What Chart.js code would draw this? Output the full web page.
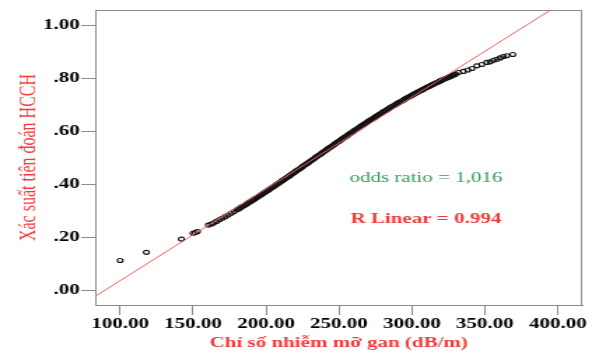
<!DOCTYPE html>
<html>
<head>
<meta charset="utf-8">
<script src="https://cdn.jsdelivr.net/npm/chart.js@4/dist/chart.umd.min.js"></script>
<style>
  html, body { margin: 0; padding: 0; background: #ffffff; overflow: hidden; }
  #wrap { position: absolute; left: 0; top: 0; width: 423px; height: 355px;
          transform: scaleX(1.39953); transform-origin: 0 0; }
</style>
</head>
<body>
<div id="wrap"><canvas id="c"></canvas></div>
<script>
// ---- data ----
const tasX = [100, 118, 142, 150, 151.5, 153, 160.5, 162.5,
  164, 166, 168, 170, 172, 174, 176, 178, 180,
  181, 182, 183, 184, 185, 186, 187, 188, 189, 190,
  191, 192, 193, 194, 195, 196, 197, 198, 199, 200,
  201, 202, 203, 204, 205, 206, 207, 208, 209, 210,
  211, 212, 213, 214, 215, 216, 217, 218, 219, 220,
  221, 222, 223, 224, 225, 226, 227, 228, 229, 230,
  231, 232, 233, 234, 235, 236, 237, 238, 239, 240,
  241, 242, 243, 244, 245, 246, 247, 248, 249, 250,
  251, 252, 253, 254, 255, 256, 257, 258, 259, 260,
  261, 262, 263, 264, 265, 266, 267, 268, 269, 270,
  271, 272, 273, 274, 275, 276, 277, 278, 279, 280,
  281, 282, 283, 284, 285, 286, 287, 288, 289, 290,
  291, 292, 293, 294, 295, 296, 297, 298, 299, 300,
  301, 302, 303, 304, 305, 306, 307, 308, 309, 310,
  311, 312, 313, 314, 315, 316, 317, 318, 319, 320,
  321, 322, 323, 324, 325, 326, 327, 328, 329, 330,
  331.9, 335.3, 338.3, 341.1, 344.5, 347.9, 351.3, 353.6, 355.9, 358.2, 360.5, 362.7, 365.0, 369.1];

const probY = [0.112, 0.143, 0.193, 0.215, 0.218, 0.222, 0.246, 0.250,
  0.254, 0.260, 0.266, 0.272, 0.278, 0.284, 0.291, 0.297, 0.304,
  0.307, 0.310, 0.314, 0.317, 0.320, 0.324, 0.327, 0.331, 0.334, 0.337,
  0.341, 0.344, 0.348, 0.351, 0.355, 0.359, 0.362, 0.366, 0.369, 0.373,
  0.377, 0.380, 0.384, 0.388, 0.391, 0.395, 0.399, 0.402, 0.406, 0.410,
  0.414, 0.417, 0.421, 0.425, 0.429, 0.432, 0.436, 0.440, 0.444, 0.448,
  0.452, 0.455, 0.459, 0.463, 0.467, 0.471, 0.475, 0.479, 0.482, 0.486,
  0.490, 0.494, 0.498, 0.502, 0.506, 0.510, 0.513, 0.517, 0.521, 0.525,
  0.529, 0.533, 0.537, 0.540, 0.544, 0.548, 0.552, 0.556, 0.560, 0.563,
  0.567, 0.571, 0.575, 0.579, 0.582, 0.586, 0.590, 0.594, 0.597, 0.601,
  0.605, 0.608, 0.612, 0.616, 0.620, 0.623, 0.627, 0.630, 0.634, 0.638,
  0.641, 0.645, 0.648, 0.652, 0.655, 0.659, 0.662, 0.666, 0.669, 0.673,
  0.676, 0.679, 0.683, 0.686, 0.690, 0.693, 0.696, 0.699, 0.703, 0.706,
  0.709, 0.712, 0.715, 0.718, 0.722, 0.725, 0.728, 0.731, 0.734, 0.737,
  0.740, 0.743, 0.746, 0.749, 0.752, 0.755, 0.757, 0.760, 0.763, 0.766,
  0.769, 0.771, 0.774, 0.777, 0.779, 0.782, 0.785, 0.787, 0.790, 0.793,
  0.795, 0.798, 0.800, 0.803, 0.805, 0.807, 0.810, 0.812, 0.814, 0.817,
  0.823, 0.827, 0.832, 0.838, 0.848, 0.853, 0.861, 0.863, 0.869, 0.873, 0.878, 0.883, 0.886, 0.891];

// linear reference line (R Linear)
const fitX = [82.9, 400];
const fitY = [-0.0234, 1.0763];

// ticks
const xTickValues = [100, 150, 200, 250, 300, 350, 400];
const xTickLabels = ['100.00', '150.00', '200.00', '250.00', '300.00', '350.00', '400.00'];
const yTickValues = [0, 0.2, 0.4, 0.6, 0.8, 1.0];
const yTickLabels = ['.00', '.20', '.40', '.60', '.80', '1.00'];

const xTitle = 'Chỉ số nhiễm mỡ gan (dB/m)';
const yTitle = 'Xác suất tiên đoán HCCH';
const noteOdds = 'odds ratio = 1,016';
const noteR = 'R Linear = 0.994';

// ---- chart ----
const scatterPts = tasX.map((x, i) => ({ x: x, y: probY[i] }));
const linePts = fitX.map((x, i) => ({ x: x, y: fitY[i] }));

const framePlugin = {
  id: 'frame',
  afterDatasetsDraw(chart) {
    const { ctx, chartArea: a } = chart;
    ctx.save();
    ctx.strokeStyle = '#8c8c8c';
    ctx.lineWidth = 1;
    ctx.strokeRect(Math.round(a.left) + 0.5, Math.round(a.top) + 0.5,
                   Math.round(a.right - a.left) - 1, Math.round(a.bottom - a.top));
    ctx.restore();
  },
  afterDraw(chart) {
    const { ctx } = chart;
    ctx.save();
    ctx.textAlign = 'center';
    ctx.textBaseline = 'middle';
    const cx = 304.3;
    ctx.font = '15px "Liberation Serif"';
    ctx.fillStyle = '#2f9a5c';
    ctx.fillText(noteOdds, cx, 178.5);
    ctx.font = 'bold 15px "Liberation Serif"';
    ctx.fillStyle = '#ee3c3c';
    ctx.fillText(noteR, cx, 219.5);
    ctx.restore();
  }
};

new Chart(document.getElementById('c'), {
  type: 'scatter',
  data: {
    datasets: [
      {
        data: linePts,
        showLine: true,
        borderColor: '#ef5a5a',
        borderWidth: 1,
        pointRadius: 0,
        fill: false
      },
      {
        data: scatterPts,
        pointRadius: 2,
        pointBorderWidth: 1.1,
        pointBorderColor: '#111111',
        pointBackgroundColor: 'rgba(255,255,255,0)',
        pointHoverRadius: 2
      }
    ]
  },
  options: {
    responsive: true,
    maintainAspectRatio: false,
    animation: false,
    events: [],
    layout: { padding: { top: 7, right: 7, left: 0, bottom: 0 } },
    plugins: { legend: { display: false }, tooltip: { enabled: false } },
    scales: {
      x: {
        type: 'linear',
        min: 82.9,
        max: 416.7,
        afterBuildTicks: s => { s.ticks = xTickValues.map(v => ({ value: v })); },
        afterFit: s => { s.height = 50; },
        border: { display: true, color: '#8c8c8c' },
        grid: { drawOnChartArea: false, drawTicks: true, tickLength: 10, color: '#8c8c8c' },
        ticks: {
          padding: 0,
          color: '#000',
          font: { family: 'Liberation Serif', size: 15, weight: 'bold' },
          maxRotation: 0,
          autoSkip: false,
          callback: (v) => xTickLabels[xTickValues.indexOf(v)]
        },
        title: {
          display: true,
          text: xTitle,
          color: '#ee3b3b',
          font: { family: 'Liberation Serif', size: 15, weight: 'bold', lineHeight: 1.2 },
          padding: { top: 0, bottom: 3 }
        }
      },
      y: {
        type: 'linear',
        min: -0.056,
        max: 1.059,
        afterBuildTicks: s => { s.ticks = yTickValues.map(v => ({ value: v })); },
        afterFit: s => { s.width = 68; },
        border: { display: true, color: '#8c8c8c' },
        grid: { drawOnChartArea: false, drawTicks: true, tickLength: 10, color: '#8c8c8c' },
        ticks: {
          padding: 1,
          color: '#000',
          font: { family: 'Liberation Serif', size: 15, weight: 'bold' },
          autoSkip: false,
          callback: (v) => yTickLabels[yTickValues.indexOf(v)]
        },
        title: {
          display: true,
          text: yTitle,
          color: '#f03c3c',
          font: { family: 'Liberation Serif', size: 16, weight: 'normal', lineHeight: 1.2 },
          padding: { top: 11.5, bottom: 0 }
        }
      }
    }
  },
  plugins: [framePlugin]
});
</script>
</body>
</html>
